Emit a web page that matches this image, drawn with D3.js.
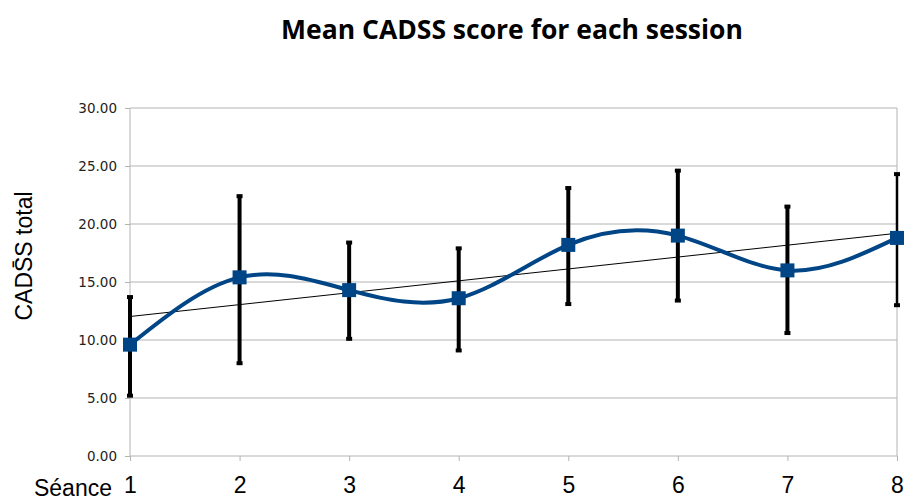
<!DOCTYPE html>
<html>
<head>
<meta charset="utf-8">
<script src="https://cdn.jsdelivr.net/npm/d3@7"></script>
<style>
  body { margin: 0; background: #fff; }
  svg { display: block; }
  .grid line { stroke: #b3b3b3; stroke-width: 1; }
</style>
</head>
<body>
<div id="chart"></div>
<script>
// sessions and values
var sessions = [1, 2, 3, 4, 5, 6, 7, 8];
var means = [9.6, 15.4, 14.3, 13.6, 18.2, 19.0, 16.0, 18.8];
var errLow = [5.2, 8.0, 10.1, 9.1, 13.1, 13.4, 10.6, 13.0];
var errHigh = [13.7, 22.4, 18.4, 17.9, 23.1, 24.6, 21.5, 24.3];
var yTicks = [0, 5, 10, 15, 20, 25, 30];

var W = 907, H = 500;
var plotL = 130, plotR = 897, plotT = 108, plotB = 456;

var svg = d3.select('#chart').append('svg')
    .attr('width', W).attr('height', H);

var x = d3.scaleLinear().domain([1, 8]).range([plotL, plotR]);
var y = d3.scaleLinear().domain([0, 30]).range([plotB, plotT]);

// title
svg.append('text')
    .attr('x', 512).attr('y', 39)
    .attr('text-anchor', 'middle')
    .style('font-family', '"Open Sans", sans-serif')
    .style('font-weight', 'bold')
    .style('font-size', '26.5px')
    .text('Mean CADSS score for each session');

// horizontal grid
svg.append('g').attr('class', 'grid')
  .selectAll('line').data(yTicks).enter().append('line')
    .attr('x1', plotL).attr('x2', plotR)
    .attr('y1', function(d) { return y(d); })
    .attr('y2', function(d) { return y(d); });

// frame: left axis and right border
svg.append('line').attr('x1', plotL).attr('x2', plotL)
    .attr('y1', plotT).attr('y2', plotB).attr('stroke', '#b3b3b3');
svg.append('line').attr('x1', plotR).attr('x2', plotR)
    .attr('y1', plotT).attr('y2', plotB).attr('stroke', '#b3b3b3');

// y axis
var yAxis = svg.append('g')
    .attr('transform', 'translate(' + plotL + ',0)')
    .call(d3.axisLeft(y).tickValues(yTicks).tickSize(5).tickPadding(8)
      .tickFormat(d3.format('.2f')));
yAxis.select('.domain').remove();
yAxis.selectAll('.tick line').attr('stroke', '#b3b3b3');
yAxis.selectAll('.tick text')
    .style('font-family', '"DejaVu Sans", sans-serif')
    .style('font-size', '13.5px').attr('fill', '#222');

// x axis
var xAxis = svg.append('g')
    .attr('transform', 'translate(0,' + plotB + ')')
    .call(d3.axisBottom(x).tickValues(sessions).tickSize(5).tickPadding(16)
      .tickFormat(d3.format('d')));
xAxis.select('.domain').remove();
xAxis.selectAll('.tick line').attr('stroke', '#b3b3b3');
xAxis.selectAll('.tick text')
    .style('font-family', '"Liberation Sans", Arial, sans-serif')
    .style('font-size', '23px').attr('fill', '#000');

svg.append('text')
    .attr('x', 112).attr('y', 496)
    .attr('text-anchor', 'end')
    .style('font-family', '"Liberation Sans", Arial, sans-serif')
    .style('font-size', '23px')
    .text('Séance');

// y axis title
svg.append('text')
    .attr('transform', 'translate(32,' + 256 + ') rotate(-90)')
    .attr('text-anchor', 'middle')
    .style('font-family', '"Liberation Sans", Arial, sans-serif')
    .style('font-size', '23px')
    .text('CADS\u0304S total');

// linear trend of the means
var xm = d3.mean(sessions), ym = d3.mean(means);
var sxy = d3.sum(sessions, function(s, i) { return (s - xm) * (means[i] - ym); });
var sxx = d3.sum(sessions, function(s) { return (s - xm) * (s - xm); });
var slope = sxy / sxx, icpt = ym - slope * xm;
svg.append('line')
    .attr('x1', x(1)).attr('y1', y(icpt + slope * 1))
    .attr('x2', x(8)).attr('y2', y(icpt + slope * 8))
    .attr('stroke', '#000').attr('stroke-width', 1);

// error bars
var eb = svg.append('g').selectAll('g').data(sessions).enter().append('g');
eb.append('line')
    .attr('x1', function(d) { return x(d); })
    .attr('x2', function(d) { return x(d); })
    .attr('y1', function(d, i) { return y(errLow[i]); })
    .attr('y2', function(d, i) { return y(errHigh[i]); })
    .attr('stroke', '#000')
    .attr('stroke-width', function(d, i) { return i == 7 ? 2.5 : 4; });
eb.each(function(d, i) {
  var g = d3.select(this);
  [errLow[i], errHigh[i]].forEach(function(v) {
    g.append('rect')
      .attr('x', x(d) - 3).attr('y', y(v) - 2)
      .attr('width', 6).attr('height', 4)
      .attr('fill', '#000');
  });
});

// smoothed mean line
var line = d3.line()
    .x(function(d) { return x(d); })
    .y(function(d, i) { return y(means[i]); })
    .curve(d3.curveNatural);
svg.append('path')
    .datum(sessions)
    .attr('d', line)
    .attr('fill', 'none')
    .attr('stroke', '#004586')
    .attr('stroke-width', 4);

// markers
svg.append('g').selectAll('rect').data(sessions).enter().append('rect')
    .attr('x', function(d) { return x(d) - 7; })
    .attr('y', function(d, i) { return y(means[i]) - 7; })
    .attr('width', 14).attr('height', 14)
    .attr('fill', '#004586');
</script>
</body>
</html>
